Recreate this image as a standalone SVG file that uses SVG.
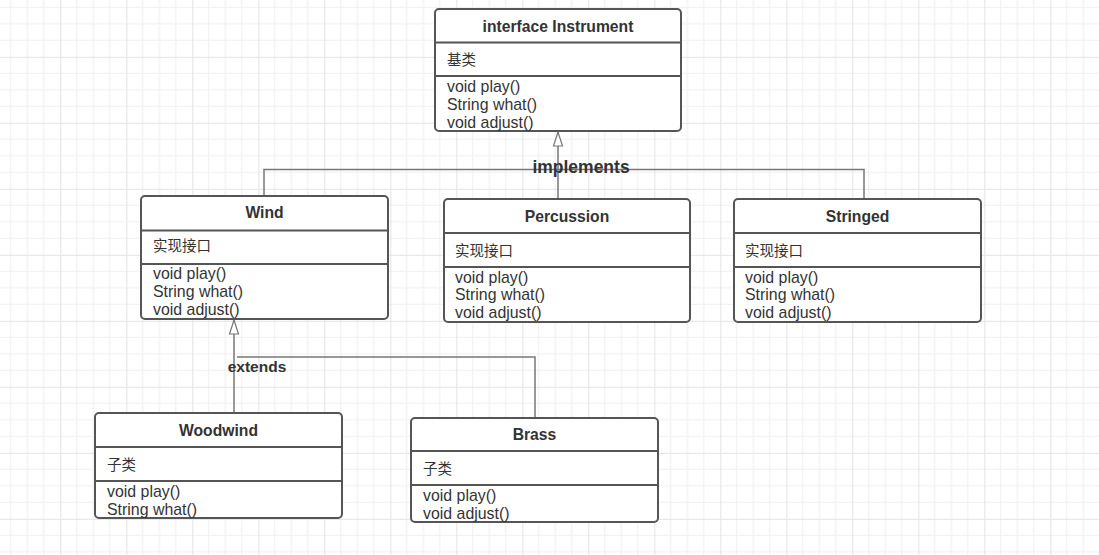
<svg xmlns="http://www.w3.org/2000/svg" width="1099" height="555" viewBox="0 0 1099 555">
<defs>
<pattern id="grid" x="-5.7" y="-9.2" width="66" height="66" patternUnits="userSpaceOnUse">
<path d="M16.5 0V66M33 0V66M49.5 0V66M0 16.5H66M0 33H66M0 49.5H66" stroke="#f0f0f0" stroke-width="1.2" fill="none"/>
<path d="M0.5 0V66M0 0.5H66" stroke="#e4e4e4" stroke-width="1.2" fill="none"/>
</pattern>
<marker id="tri" markerWidth="16" markerHeight="12" refX="15" refY="6" orient="auto" markerUnits="userSpaceOnUse" viewBox="0 0 16 12">
<path d="M15 6L1 1.5V10.5Z" fill="#fff" stroke="#777" stroke-width="1.2"/>
</marker>
<style>
.box{fill:#fff;stroke:#555;stroke-width:2}
.sep{stroke:#555;stroke-width:2}
.title{font-family:"Liberation Sans","Noto Sans CJK SC",sans-serif;font-size:15.7px;font-weight:bold;fill:#333;text-anchor:middle}
.txt{font-family:"Liberation Sans","Noto Sans CJK SC",sans-serif;font-size:15.9px;fill:#333}
.cjk{font-family:"Noto Sans CJK SC",sans-serif;font-size:14.5px;fill:#333}
.lbl{font-family:"Liberation Sans","Noto Sans CJK SC",sans-serif;font-weight:bold;fill:#333}
.con{fill:none;stroke:#777;stroke-width:1.5}
</style>
</defs>
<rect width="1099" height="555" fill="#fff"/>
<rect width="1099" height="555" fill="url(#grid)"/>

<g id="connectors">
<path class="con" d="M558 147V169.5M264 196V169.5H864V199M558 169.5V199" />
<path class="con" d="M558 147V132" marker-end="url(#tri)" />
<path class="con" d="M234 413V335" />
<path class="con" d="M234 335V320" marker-end="url(#tri)" />
<path class="con" d="M237 357H535V418" />
<text class="lbl" x="581" y="173" font-size="17.5" text-anchor="middle">implements</text>
<text class="lbl" x="257" y="372" font-size="15.5" text-anchor="middle">extends</text>
</g>

<g id="instrument">
<rect class="box" x="435" y="9" width="246" height="122" rx="4"/>
<line class="sep" x1="435" y1="42.5" x2="681" y2="42.5"/>
<line class="sep" x1="435" y1="76" x2="681" y2="76"/>
<text class="title" x="558" y="32">interface Instrument</text>
<text class="cjk" x="447" y="65">基类</text>
<text class="txt" x="447" y="92">void play()</text>
<text class="txt" x="447" y="110">String what()</text>
<text class="txt" x="447" y="128">void adjust()</text>
</g>

<g id="wind">
<rect class="box" x="141" y="196" width="247" height="123" rx="4"/>
<line class="sep" x1="141" y1="230.5" x2="388" y2="230.5"/>
<line class="sep" x1="141" y1="264" x2="388" y2="264"/>
<text class="title" x="264.5" y="218">Wind</text>
<text class="cjk" x="153" y="251">实现接口</text>
<text class="txt" x="153" y="279">void play()</text>
<text class="txt" x="153" y="297">String what()</text>
<text class="txt" x="153" y="315">void adjust()</text>
</g>

<g id="percussion">
<rect class="box" x="444" y="199" width="246" height="123" rx="4"/>
<line class="sep" x1="444" y1="233" x2="690" y2="233"/>
<line class="sep" x1="444" y1="267" x2="690" y2="267"/>
<text class="title" x="567" y="222">Percussion</text>
<text class="cjk" x="455" y="256">实现接口</text>
<text class="txt" x="455" y="283">void play()</text>
<text class="txt" x="455" y="300">String what()</text>
<text class="txt" x="455" y="318">void adjust()</text>
</g>

<g id="stringed">
<rect class="box" x="734" y="199" width="247" height="123" rx="4"/>
<line class="sep" x1="734" y1="233" x2="981" y2="233"/>
<line class="sep" x1="734" y1="267" x2="981" y2="267"/>
<text class="title" x="857.5" y="222">Stringed</text>
<text class="cjk" x="745" y="256">实现接口</text>
<text class="txt" x="745" y="283">void play()</text>
<text class="txt" x="745" y="300">String what()</text>
<text class="txt" x="745" y="318">void adjust()</text>
</g>

<g id="woodwind">
<rect class="box" x="95" y="413" width="247" height="105" rx="4"/>
<line class="sep" x1="95" y1="447" x2="342" y2="447"/>
<line class="sep" x1="95" y1="481" x2="342" y2="481"/>
<text class="title" x="218.5" y="436">Woodwind</text>
<text class="cjk" x="107" y="470">子类</text>
<text class="txt" x="107" y="497">void play()</text>
<text class="txt" x="107" y="515">String what()</text>
</g>

<g id="brass">
<rect class="box" x="411" y="418" width="247" height="104" rx="4"/>
<line class="sep" x1="411" y1="451" x2="658" y2="451"/>
<line class="sep" x1="411" y1="485" x2="658" y2="485"/>
<text class="title" x="534.5" y="440">Brass</text>
<text class="cjk" x="423" y="474">子类</text>
<text class="txt" x="423" y="501">void play()</text>
<text class="txt" x="423" y="519">void adjust()</text>
</g>
</svg>
